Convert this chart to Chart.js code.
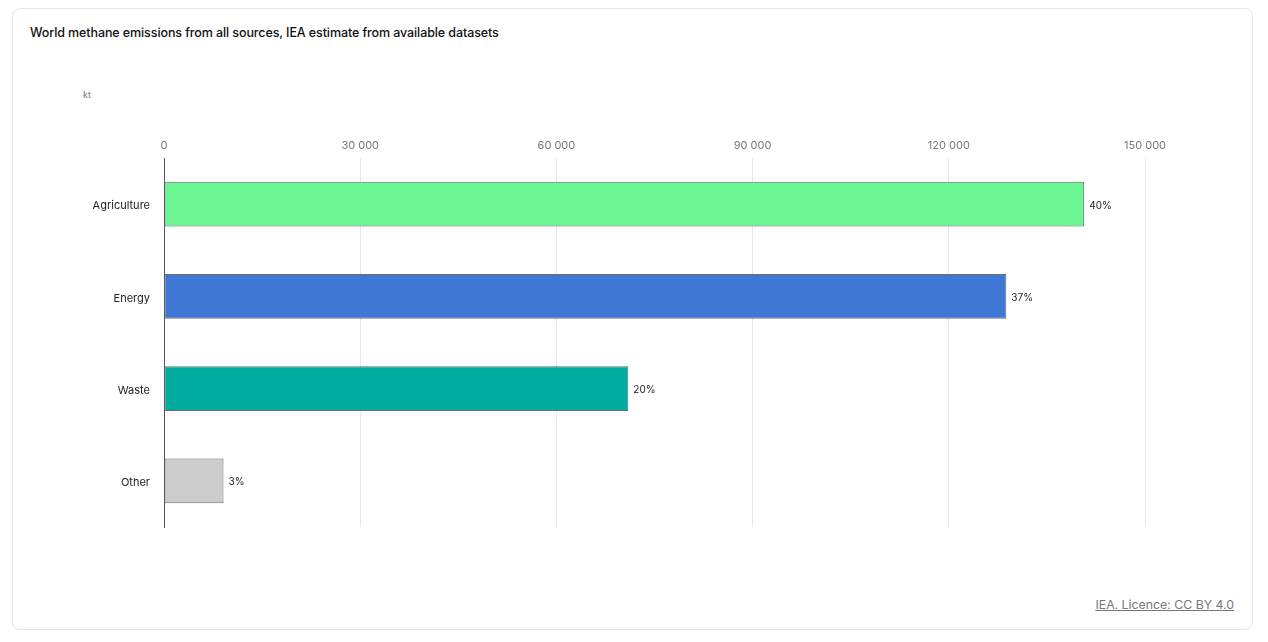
<!DOCTYPE html>
<html>
<head>
<meta charset="utf-8">
<script src="https://cdn.jsdelivr.net/npm/chart.js@4.4.1/dist/chart.umd.min.js"></script>
<style>
  html, body { margin: 0; padding: 0; background: #fff; width: 1268px; height: 642px; overflow: hidden; font-family: Inter, "Noto Sans", sans-serif; }
  #card { position: absolute; left: 12px; top: 8px; width: 1239px; height: 620px; border: 1px solid #e6e6e6; border-radius: 8px; box-sizing: content-box; }
  #title { position: absolute; left: 30px; top: 25px; font-size: 12.5px; font-weight: 500; color: #111; letter-spacing: -0.1px; white-space: nowrap; }
  #unit { position: absolute; left: 83px; top: 89px; font-size: 9px; color: #777; }
  #lic { position: absolute; right: 34px; top: 597px; font-size: 12.3px; color: #777; text-decoration: underline; white-space: nowrap; }
  #wrap { position: absolute; left: 0; top: 0; width: 1268px; height: 642px; }
</style>
</head>
<body>
<div id="card"></div>
<div id="title">World methane emissions from all sources, IEA estimate from available datasets</div>
<div id="unit">kt</div>
<div id="lic">IEA. Licence: CC BY 4.0</div>
<div id="wrap"><canvas id="c" width="1268" height="642"></canvas></div>
<script>
const categories = ["Agriculture", "Energy", "Waste", "Other"];
const emissions = [140700, 128800, 71000, 9100];
const barColors = ["#6af492", "#3f78d4", "#00ab9f", "#cccccc"];
const xTicks = [0, 30000, 60000, 90000, 120000, 150000];

const total = emissions.reduce((a, b) => a + b, 0);

const pctPlugin = {
  id: 'pct',
  afterDatasetsDraw(chart) {
    const ctx = chart.ctx;
    const meta = chart.getDatasetMeta(0);
    ctx.save();
    ctx.font = '10px Inter, "Noto Sans", sans-serif';
    ctx.fillStyle = '#222';
    ctx.textBaseline = 'middle';
    ctx.textAlign = 'left';
    meta.data.forEach((el, i) => {
      const pct = Math.round(emissions[i] / total * 100) + '%';
      ctx.fillText(pct, el.x + 5, el.y + 1.5);
    });
    ctx.restore();
  }
};

new Chart(document.getElementById('c'), {
  type: 'bar',
  data: {
    labels: categories,
    datasets: [{
      data: emissions,
      backgroundColor: barColors,
      borderColor: '#6e6e6e',
      borderWidth: 1,
      borderSkipped: false,
      categoryPercentage: 1,
      barPercentage: 0.485
    }]
  },
  options: {
    indexAxis: 'y',
    responsive: false,
    animation: false,
    devicePixelRatio: 1,
    layout: { padding: { left: 0, right: 123, top: 0, bottom: 115 } },
    plugins: { legend: { display: false }, tooltip: { enabled: false } },
    scales: {
      x: {
        position: 'top',
        min: 0,
        max: 150000,
        afterBuildTicks(scale) { scale.ticks = xTicks.map(v => ({ value: v })); },
        afterFit(scale) { scale.height = 158; },
        grid: { color: '#e8e8e8', drawTicks: false, lineWidth: 1 },
        border: { display: false },
        ticks: {
          padding: 6,
          color: '#777',
          font: { family: 'Inter, "Noto Sans", sans-serif', size: 11 },
          callback(v) { return String(v).replace(/\B(?=(\d{3})+(?!\d))/g, ' '); }
        }
      },
      y: {
        afterFit(scale) { scale.width = 164; },
        grid: { display: false, drawTicks: false },
        border: { display: true, color: '#555', width: 1 },
        ticks: {
          padding: 14,
          labelOffset: 2,
          color: '#222',
          font: { family: 'Inter, "Noto Sans", sans-serif', size: 11 }
        }
      }
    }
  },
  plugins: [pctPlugin]
});
</script>
</body>
</html>
